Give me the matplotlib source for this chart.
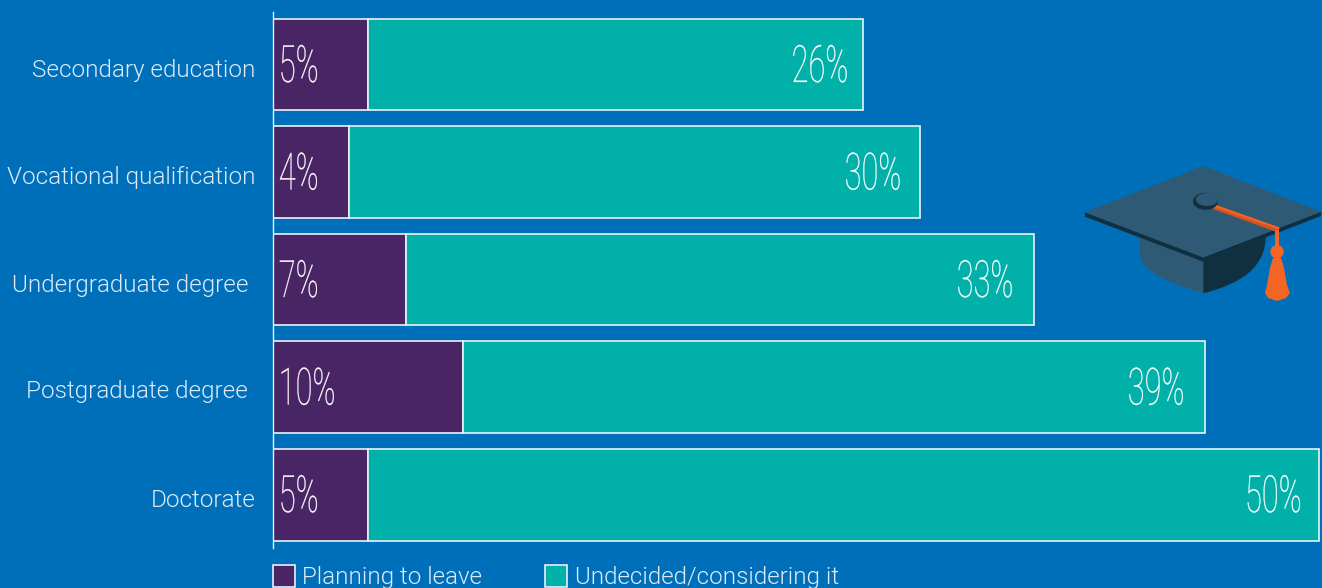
import matplotlib
matplotlib.use('Agg')
import matplotlib.pyplot as plt
from matplotlib.patches import Circle, Ellipse, PathPatch, Polygon, Rectangle
from matplotlib.path import Path
from matplotlib.patheffects import AbstractPathEffect
from matplotlib.transforms import Affine2D

categories = ['Secondary education', 'Vocational qualification', 'Undergraduate degree',
              'Postgraduate degree', 'Doctorate']
planning = [5, 4, 7, 10, 5]
undecided = [26, 30, 33, 39, 50]
series_names = ['Planning to leave', 'Undecided/considering it']

BG = '#006FBA'
PURPLE = '#4A2566'
TEAL = '#00B0A9'
LINE = '#E8F3F8'
TEXT = '#DCEBF6'
W, H = 1322, 588
X0 = 273.2
PX = 0.72  # points per pixel at dpi 100

# layout, in pixels: gap between category label and axis, label inset from bar end
cat_gaps = [18, 18, 25, 25, 18]
cat_drops = [12.5, 12.5, 12.5, 10.5, 12.5]
end_insets = [13, 17, 19, 19, 16]


class Condensed(AbstractPathEffect):
    """Squeeze text horizontally and thicken it a little, pivoting on one end."""

    def __init__(self, sx, side='left', stroke=0.22):
        super().__init__()
        self.sx = sx
        self.side = side
        self.stroke = stroke

    def draw_path(self, renderer, gc, tpath, affine, rgbFace=None):
        pivot = tpath.get_extents().x1 if self.side == 'right' else 0
        squeeze = Affine2D().translate(-pivot, 0).scale(self.sx, 1).translate(pivot, 0)
        gc0 = renderer.new_gc()
        gc0.copy_properties(gc)
        gc0.set_foreground(rgbFace)
        gc0.set_linewidth(self.stroke)
        renderer.draw_path(gc0, tpath, squeeze + affine, rgbFace)
        gc0.restore()


plt.rcParams['font.family'] = ['Roboto', 'DejaVu Sans']

fig = plt.figure(figsize=(W / 100, H / 100), dpi=100, facecolor=BG)

# bars sit on an axes placed by pixel rows/columns of the canvas
ax = fig.add_axes([X0 / W, (H - 548) / H, (W - X0) / W, (548 - 12) / H])
ax.set_facecolor('none')
ax.set_xlim(0, (W - X0) / 19.01)
ax.set_ylim(4.497, -0.488)

y = list(range(len(categories)))
ax.barh(y, planning, height=0.855, color=PURPLE, edgecolor=LINE, linewidth=1.2)
ax.barh(y, undecided, left=planning, height=0.855, color=TEAL, edgecolor=LINE, linewidth=1.2)

for s in ['top', 'right', 'bottom']:
    ax.spines[s].set_visible(False)
ax.spines['left'].set_color(LINE)
ax.spines['left'].set_linewidth(1.0)
ax.set_xticks([])
ax.set_yticks([])

for i in y:
    ax.annotate(categories[i], (0, i), xytext=(-cat_gaps[i] * PX, -cat_drops[i] * PX), textcoords='offset points',
                ha='right', va='baseline', fontsize=17.5, fontweight=300, color=TEXT,
                annotation_clip=False)
    # percentage labels, tall and narrow
    ax.annotate(f'{planning[i]}%', (0, i), xytext=(4, -12.6), textcoords='offset points',
                ha='left', va='baseline', fontsize=37, fontweight=100, color='white',
                path_effects=[Condensed(0.6)])
    ax.annotate(f'{undecided[i]}%', (planning[i] + undecided[i], i), xytext=(-end_insets[i] * PX, -12.6),
                textcoords='offset points', ha='right', va='baseline', fontsize=37,
                fontweight=100, color='white', path_effects=[Condensed(0.6, 'right')])

# overlay in canvas pixels for the legend and the mortarboard
over = fig.add_axes([0, 0, 1, 1])
over.set_xlim(0, W)
over.set_ylim(H, 0)
over.axis('off')

for x0, tx, col, name in zip([272.5, 544.5], [302, 575], [PURPLE, TEAL], series_names):
    over.add_patch(Rectangle((x0, 565), 22, 22, facecolor=col, edgecolor=LINE, linewidth=1.2))
    over.text(tx, 584, name, fontsize=17.4, fontweight=300, color=TEXT, va='baseline')

CAP = '#2F5A75'
CAP_DARK = '#11303F'
ORANGE = '#F26524'
ORANGE_DARK = '#D9501F'

skull_l = Path([(1140, 236), (1140, 253), (1140, 272), (1172, 284), (1203.3, 293.3), (1203.3, 258), (1140, 236)],
               [Path.MOVETO, Path.LINETO, Path.CURVE4, Path.CURVE4, Path.CURVE4, Path.LINETO, Path.CLOSEPOLY])
skull_r = Path([(1203.3, 258), (1203.3, 293.3), (1240, 284), (1265.7, 268), (1265.7, 236), (1203.3, 258)],
               [Path.MOVETO, Path.LINETO, Path.CURVE4, Path.CURVE4, Path.CURVE4, Path.CLOSEPOLY])
over.add_patch(PathPatch(skull_l, facecolor=CAP, edgecolor='none'))
over.add_patch(PathPatch(skull_r, facecolor=CAP_DARK, edgecolor='none'))
over.add_patch(Polygon([(1085, 212.3), (1085, 216.7), (1203.3, 261.7), (1321, 216), (1321, 211.7), (1203.3, 257.3)],
                       facecolor=CAP_DARK, edgecolor='none'))
over.add_patch(Polygon([(1085, 212.3), (1203.3, 166), (1321, 211.7), (1203.3, 257.3)],
                       facecolor=CAP, edgecolor='none'))
# strap from the button to the board's edge
over.add_patch(Polygon([(1213, 204), (1279.5, 227.5), (1278, 232.5), (1213, 209)],
                       facecolor=ORANGE_DARK, edgecolor='none'))
over.add_patch(Polygon([(1213, 204), (1279.5, 227.5), (1279, 229.5), (1213, 206.5)],
                       facecolor=ORANGE, edgecolor='none'))
over.add_patch(Ellipse((1205.5, 201.3), 25, 17, facecolor=CAP_DARK, edgecolor='none'))
over.add_patch(Ellipse((1207, 199.5), 22, 13, facecolor=CAP, edgecolor='none'))
over.add_patch(Rectangle((1275, 230), 4.3, 20, facecolor=ORANGE, edgecolor='none'))
over.add_patch(Circle((1277, 251.7), 6.7, facecolor=ORANGE, edgecolor='none'))
over.add_patch(Polygon([(1273, 258), (1281, 258), (1284, 268), (1287, 285), (1290, 293), (1286, 298), (1277, 301),
                        (1268, 298), (1265, 293), (1267, 285), (1270, 268)], facecolor=ORANGE, edgecolor='none'))

fig.savefig('out.png', dpi=100, facecolor=BG)
